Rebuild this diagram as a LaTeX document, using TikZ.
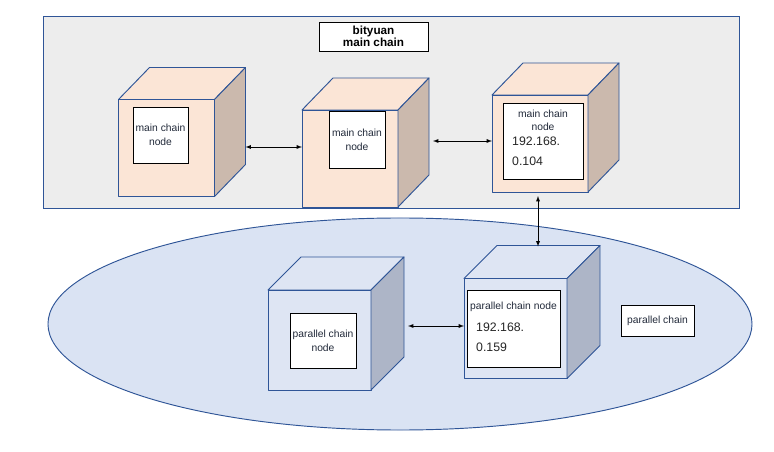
\documentclass[tikz,border=0pt]{standalone}
\usepackage{fontspec}
\setmainfont{Liberation Sans}
\usetikzlibrary{arrows, shapes.geometric}

\definecolor{edgeblue}{HTML}{2F5597}
\definecolor{chainbg}{HTML}{EDEDED}
\definecolor{mainpeach}{HTML}{FBE5D6}
\definecolor{mainside}{HTML}{CBB9AD}
\definecolor{parblue}{HTML}{DEE5F3}
\definecolor{parside}{HTML}{ADB5C7}
\definecolor{ellblue}{HTML}{DAE3F3}
\definecolor{labeltext}{HTML}{222A3A}

\begin{document}
\begin{tikzpicture}[x=0.03cm, y=-0.03cm, >=latex, align=center,
  face/.style={draw=edgeblue, line width=0.8pt, line join=round},
  mainfront/.style={face, fill=mainpeach, outer sep=0pt, inner sep=0pt,
    minimum width=2.88cm, minimum height=2.91cm},
  parfront/.style={face, fill=parblue, outer sep=0pt, inner sep=0pt,
    minimum width=3.09cm, minimum height=3cm},
  inbox/.style={draw, fill=white, line width=0.7pt, outer sep=0pt, inner sep=1pt,
    text=labeltext, font=\fontsize{8.8}{12}\selectfont},
  ipnum/.style={anchor=west, align=left, inner sep=0pt, text=black!85,
    font=\fontsize{10.5}{17.5}\selectfont},
  link/.style={<->, line width=0.6pt}]

\useasboundingbox (0,0) rectangle (774,452);

% the two chains
\path (391,112) node[draw=edgeblue, fill=chainbg, line width=0.8pt,
        minimum width=20.88cm, minimum height=5.76cm] (mainchain) {};
\path (400,324) node[ellipse, draw=edgeblue, fill=ellblue, line width=0.8pt,
        minimum width=21.12cm, minimum height=6.36cm] (parchain) {};

\path (373.5,36.5) node[draw, fill=white, line width=0.7pt, text=black,
        font=\bfseries\fontsize{10}{10.5}\selectfont,
        minimum width=3.27cm, minimum height=0.87cm] (title) {bityuan\\main chain}
      (657.5,320.5) node[inbox, minimum width=2.19cm, minimum height=0.93cm] (partitle) {parallel chain};

% main chain cubes
\path (166.5,148) node[mainfront] (c1) {}
      (350,158.5) node[mainfront] (c2) {}
      (540,143.5) node[mainfront] (c3) {};
\filldraw[face, fill=mainpeach] (c1.north west) -- ++(31,-32) -- ++(96,0) -- (c1.north east) -- cycle;
\filldraw[face, fill=mainside] (c1.north east) -- ++(31,-32) -- ++(0,97) -- (c1.south east) -- cycle;
\filldraw[face, fill=mainpeach] (c2.north west) -- ++(31,-32) -- ++(96,0) -- (c2.north east) -- cycle;
\filldraw[face, fill=mainside] (c2.north east) -- ++(31,-32) -- ++(0,97) -- (c2.south east) -- cycle;
\filldraw[face, fill=mainpeach] (c3.north west) -- ++(31,-32) -- ++(96,0) -- (c3.north east) -- cycle;
\filldraw[face, fill=mainside] (c3.north east) -- ++(31,-32) -- ++(0,97) -- (c3.south east) -- cycle;

% parallel chain cubes
\path (319.5,340) node[parfront] (c4) {}
      (515.5,328.5) node[parfront] (c5) {};
\filldraw[face, fill=parblue] (c4.north west) -- ++(33,-33) -- ++(103,0) -- (c4.north east) -- cycle;
\filldraw[face, fill=parside] (c4.north east) -- ++(33,-33) -- ++(0,100) -- (c4.south east) -- cycle;
\filldraw[face, fill=parblue] (c5.north west) -- ++(33,-33) -- ++(103,0) -- (c5.north east) -- cycle;
\filldraw[face, fill=parside] (c5.north east) -- ++(33,-33) -- ++(0,100) -- (c5.south east) -- cycle;

% labels on the cubes
\path (160.5,135) node[inbox, minimum width=1.65cm, minimum height=1.68cm] (b1) {main chain\\node}
      (357,139.5) node[inbox, minimum width=1.68cm, minimum height=1.71cm] (b2) {main chain\\node}
      (543,141) node[inbox, minimum width=2.4cm, minimum height=2.28cm] (b3) {}
      (323,340.5) node[inbox, minimum width=1.98cm, minimum height=1.65cm] (b4) {parallel chain\\node}
      (513.5,328.5) node[inbox, minimum width=2.79cm, minimum height=2.31cm] (b5) {};
\path (543,120.5) node[text=labeltext, inner sep=0pt, font=\fontsize{8.8}{11}\selectfont] (t3) {main chain\\node}
      (512,151.5) node[ipnum] (ip3) {192.168.\\0.104}
      (513.5,307) node[text=labeltext, inner sep=0pt, font=\fontsize{8.8}{11}\selectfont] (t5) {parallel chain node}
      (476,337.5) node[ipnum] (ip5) {192.168.\\0.159};

% links between the nodes
\path (c1.east) ++(31,-1) coordinate (c1r)
      (c2.east) ++(35,-17.5) coordinate (c2r)
      (c4.east) ++(37,-14) coordinate (c4r)
      (c3.south) ++(-2,4) coordinate (c3b)
      (c5.north) ++(33,-32) coordinate (c5t);
\draw[link] (c1r) -- (c1r -| c2.west);
\draw[link] (c2r) -- (c2r -| c3.west);
\draw[link] (c3b) -- (c3b |- c5t);
\draw[link] (c4r) -- (c4r -| c5.west);

\end{tikzpicture}
\end{document}
